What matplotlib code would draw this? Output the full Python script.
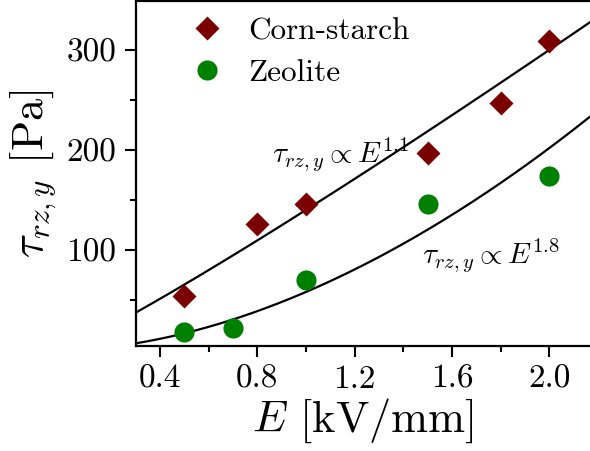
import numpy as np
import matplotlib
matplotlib.use("Agg")
import matplotlib.pyplot as plt
from matplotlib.ticker import MultipleLocator

# Data
corn_E = [0.5, 0.8, 1.0, 1.5, 1.8, 2.0]
corn_tau = [54, 126, 146, 197, 247, 309]
zeo_E = [0.5, 0.7, 1.0, 1.5, 2.0]
zeo_tau = [18, 22, 70, 146, 174]
fit1_a, fit1_b = 140, 1.1
fit2_a, fit2_b = 58, 1.8
xticks = [0.4, 0.8, 1.2, 1.6, 2.0]
yticks = [100, 200, 300]

plt.rcParams['font.family'] = ['cmr10', 'DejaVu Serif']
plt.rcParams['mathtext.fontset'] = 'cm'
plt.rcParams['axes.formatter.use_mathtext'] = True

fig = plt.figure(figsize=(5.9, 4.51), dpi=100)
ax = fig.add_axes([135.5/590, 105.5/451, 1 - 135.5/590, 344.5/451])

xs = np.linspace(0.3, 2.2, 200)
ax.plot(xs, fit1_a * xs**fit1_b, color='black', lw=1.6, zorder=2)
ax.plot(xs, fit2_a * xs**fit2_b, color='black', lw=1.6, zorder=2)
ax.plot(corn_E, corn_tau, 'D', color='#7a0000', ms=12.5, mec='none', label='Corn-starch', zorder=3)
ax.plot(zeo_E, zeo_tau, 'o', color='#008000', ms=14.5, mec='none', label='Zeolite', zorder=3)

ax.set_xlim(0.3, 2.167)
ax.set_ylim(4.5, 349)
ax.set_xticks(xticks)
ax.set_xticklabels([f"{v:.1f}" for v in xticks])
ax.set_yticks(yticks)
ax.set_yticklabels([str(v) for v in yticks])
ax.xaxis.set_minor_locator(MultipleLocator(0.2))
ax.yaxis.set_minor_locator(MultipleLocator(50))
ax.tick_params(which='both', direction='out', top=False, right=False, width=1.5, labelsize=24, pad=6)
ax.tick_params(which='major', length=8)
ax.tick_params(which='minor', length=4)
for s in ['left', 'bottom', 'top']:
    ax.spines[s].set_linewidth(1.6)
ax.spines['right'].set_visible(False)

ax.set_xlabel(r'$E$ [kV/mm]', fontsize=32, labelpad=2)
ax.set_ylabel(r'$\tau_{rz,y}$ [Pa]', fontsize=32, labelpad=6)

ax.text(0.300, 0.533, r'$\tau_{rz,y}\propto E^{1.1}$', transform=ax.transAxes, fontsize=21)
ax.text(0.631, 0.239, r'$\tau_{rz,y}\propto E^{1.8}$', transform=ax.transAxes, fontsize=21)

leg = ax.legend(loc='upper left', bbox_to_anchor=(0.055, 1.035), frameon=False, fontsize=22.5,
                handletextpad=0.7, labelspacing=0.45, handlelength=1.2)

fig.savefig('out.png', dpi=100)
